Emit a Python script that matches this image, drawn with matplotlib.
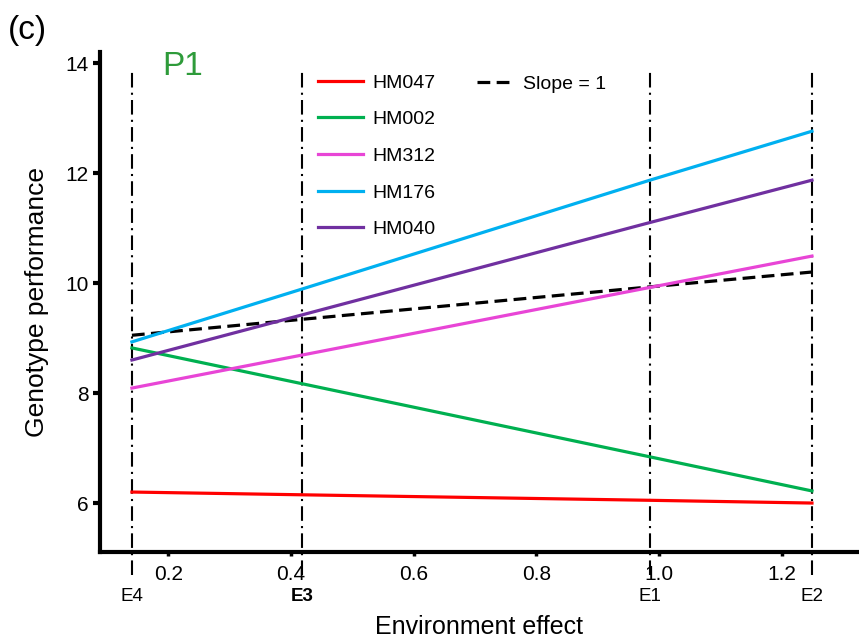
import matplotlib
matplotlib.use('Agg')
import matplotlib.pyplot as plt
from matplotlib.transforms import blended_transform_factory

plt.rcParams['font.family'] = ['Liberation Sans', 'DejaVu Sans']

# environment effects (x positions of the four environments)
env_names = ['E4', 'E3', 'E1', 'E2']
env_effect = [0.141, 0.418, 0.985, 1.249]

# genotype performance in each environment
genotypes = ['HM047', 'HM002', 'HM312', 'HM176', 'HM040']
hm047 = [6.20, 6.15, 6.05, 6.00]
hm002 = [8.82, 8.17, 6.84, 6.22]
hm312 = [8.09, 8.69, 9.92, 10.49]
hm176 = [8.93, 9.89, 11.87, 12.76]
hm040 = [8.60, 9.42, 11.10, 11.87]
slope_one = [9.05, 9.34, 9.93, 10.20]

colors = ['#ff0000', '#00b050', '#e845d6', '#00b0f0', '#7030a0']

x_ticks = [0.2, 0.4, 0.6, 0.8, 1.0, 1.2]
y_ticks = [6, 8, 10, 12, 14]

fig = plt.figure(figsize=(8.59, 6.40), dpi=100)
ax = fig.add_axes([100 / 859, 1 - 552 / 640, 758 / 859, 500 / 640])

# 环境竖线（点划线）
for xe in env_effect:
    ax.plot([xe, xe], [4.69, 13.84], color='black', lw=1.5,
            dashes=(7, 2.5, 1, 2.5), clip_on=False, zorder=1)

series = [hm047, hm002, hm312, hm176, hm040]
handles = []
for name, vals, c in zip(genotypes, series, colors):
    h, = ax.plot(env_effect, vals, color=c, lw=2.3, label=name, zorder=3)
    handles.append(h)

hs, = ax.plot(env_effect, slope_one, color='black', lw=2.3,
              dashes=(4, 2), label='Slope = 1', zorder=2)

ax.set_xlim(0.089, 1.324)
ax.set_ylim(5.11, 14.2)
ax.set_xticks(x_ticks)
ax.set_xticklabels([f'{v:.1f}' for v in x_ticks])
ax.set_yticks(y_ticks)

for s in ['top', 'right']:
    ax.spines[s].set_visible(False)
for s in ['left', 'bottom']:
    ax.spines[s].set_linewidth(3)

ax.tick_params(axis='x', direction='out', length=3, width=2.5, pad=6, labelsize=15)
ax.tick_params(axis='y', direction='out', length=5, width=3, pad=3, labelsize=15)

ax.set_xlabel('Environment effect', fontsize=18, labelpad=23)
ax.set_ylabel('Genotype performance', fontsize=19, labelpad=12)

# 环境名称
trans = blended_transform_factory(ax.transData, ax.transAxes)
for name, xe in zip(env_names, env_effect):
    ax.text(xe, -0.072, name, transform=trans, ha='center', va='top',
            fontsize=13.5, fontweight='bold' if name == 'E3' else 'normal')

fig.text(8 / 859, 1 - 30 / 640, '(c)', fontsize=24, ha='left', va='center')
ax.text(0.19, 13.93, 'P1', color='#2e9b3a', fontsize=24, ha='left', va='center')

fig.legend(handles=handles, loc='upper left',
           bbox_to_anchor=(318 / 859, 1 - 74 / 640),
           frameon=False, fontsize=14, handlelength=2.3,
           handletextpad=0.5, labelspacing=0.98, borderpad=0,
           borderaxespad=0)
fig.legend(handles=[hs], loc='upper left',
           bbox_to_anchor=(477 / 859, 1 - 75 / 640),
           frameon=False, fontsize=14, handlelength=1.8,
           handletextpad=0.55, borderpad=0, borderaxespad=0)

fig.savefig('out.png', dpi=100)
